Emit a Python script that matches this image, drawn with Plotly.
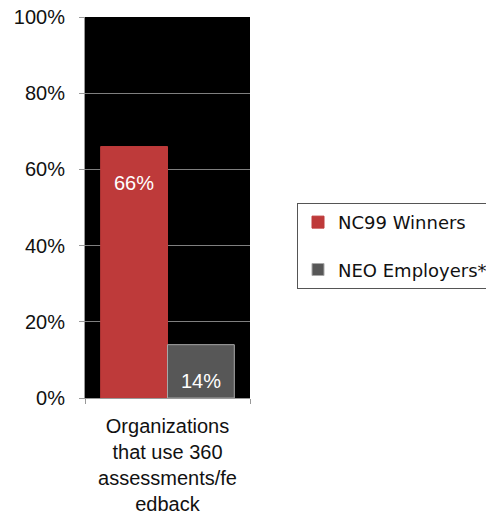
import plotly.graph_objects as go

# Share of organizations using 360-degree assessments / feedback
category = ["Organizations<br>that use 360<br>assessments/fe<br>edback"]
series_names = ["NC99 Winners", "NEO Employers*"]
series_values = [[0.66], [0.14]]
bar_colors = ["#BE3A3A", "#575757"]
bar_lines = ["#BE3A3A", "#A8A8A8"]

y_ticks = [0, 0.2, 0.4, 0.6, 0.8, 1.0]
y_tick_labels = ["0%", "20%", "40%", "60%", "80%", "100%"]

BARGAP = 0.19
bar_w = (1 - BARGAP) / 2
centers = [-bar_w / 2, bar_w / 2]

fig = go.Figure()
for i, (name, vals) in enumerate(zip(series_names, series_values)):
    fig.add_trace(go.Bar(
        x=category, y=vals, name=name,
        legendgroup=name,
        marker=dict(color=bar_colors[i], line=dict(color=bar_lines[i], width=1)),
        hoverinfo="skip",
    ))
    # value label inside the bar, a fixed distance below its top
    for v in vals:
        fig.add_annotation(
            x=centers[i], y=v, text=f"{round(v * 100)}%",
            showarrow=False, yshift=-36,
            font=dict(family="Liberation Sans, Arial", size=20, color="white"),
        )

fig.update_layout(
    width=486, height=514,
    margin=dict(l=85, r=236, t=17, b=116, autoexpand=False),
    paper_bgcolor="white", plot_bgcolor="black",
    barmode="group", bargap=BARGAP, bargroupgap=0,
    showlegend=True,
    legend=dict(
        x=(297 - 85) / 165, xanchor="left", y=0.512, yanchor="top",
        bordercolor="#555555", borderwidth=1, bgcolor="white",
        font=dict(family="DejaVu Sans", size=18, color="#111111"),
        tracegroupgap=21, traceorder="grouped",
    ),
    xaxis=dict(
        type="category", tickson="boundaries", ticks="outside", ticklen=5,
        tickcolor="#999999", showline=True, linecolor="#999999", linewidth=1,
        showgrid=False, range=[-0.5, 0.5], tickangle=0, automargin=False,
        ticklabelstandoff=10,
        tickfont=dict(family="Liberation Sans, Arial", size=20, color="#111111"),
    ),
    yaxis=dict(
        range=[0, 1], tickvals=y_ticks, ticktext=y_tick_labels,
        ticks="outside", ticklen=5, tickcolor="#999999",
        showline=True, linecolor="#999999", linewidth=1,
        showgrid=True, gridcolor="#7F7F7F", gridwidth=1, zeroline=False,
        ticklabelstandoff=10, automargin=False,
        tickfont=dict(family="Liberation Sans, Arial", size=20, color="#111111"),
    ),
)

fig.write_html("out.html")
